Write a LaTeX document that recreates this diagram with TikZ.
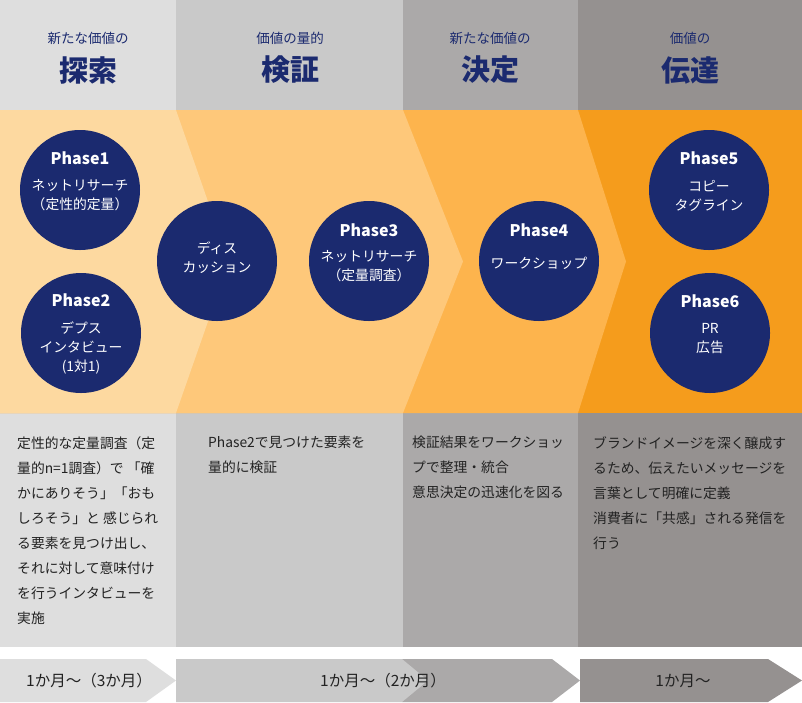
\documentclass[tikz,border=0pt]{standalone}
\usepackage{fontspec}
\setmainfont{Noto Sans CJK JP}
\definecolor{navy}{HTML}{1B2A6F}
\definecolor{colA}{HTML}{DEDEDE}
\definecolor{colB}{HTML}{C9C9C9}
\definecolor{colC}{HTML}{ABA9A9}
\definecolor{colD}{HTML}{959190}
\definecolor{bandA}{HTML}{FDD9A0}
\definecolor{bandB}{HTML}{FEC87A}
\definecolor{bandC}{HTML}{FDB44D}
\definecolor{bandD}{HTML}{F59C1C}
\definecolor{bodygray}{HTML}{222222}
\tikzset{
  phase/.style={circle, fill=navy, minimum size=120pt, inner sep=0pt},
  ptitle/.style={text=white, inner sep=0pt, font=\fontsize{16}{19}\bfseries},
  ptext/.style={text=white, inner sep=0pt, align=center, font=\fontsize{13.8}{19}\selectfont},
  headsmall/.style={text=navy, inner sep=0pt, font=\fontsize{13.5}{15}\selectfont},
  headbig/.style={text=navy, inner sep=0pt, font=\fontsize{29}{32}\bfseries},
  bodytext/.style={anchor=north west, inner sep=0pt, align=left, text=bodygray, font=\fontsize{13.8}{25}\selectfont},
  termtext/.style={text=bodygray, inner sep=0pt, font=\fontsize{15.5}{17}\selectfont}
}
\begin{document}
\begin{tikzpicture}[x=1pt,y=-1pt]
\useasboundingbox (0,0) rectangle (802,702);
% columns
\fill[colA] (0,0) rectangle (176,647);
\fill[colB] (176,0) rectangle (403,647);
\fill[colC] (403,0) rectangle (578,647);
\fill[colD] (578,0) rectangle (802,647);
% band
\fill[bandD] (0,110) rectangle (802,413);
\fill[bandC] (0,110) -- (578,110) -- (626,261.5) -- (578,413) -- (0,413) -- cycle;
\fill[bandB] (0,110) -- (403,110) -- (463,261.5) -- (403,413) -- (0,413) -- cycle;
\fill[bandA] (0,110) -- (176,110) -- (229,261.5) -- (176,413) -- (0,413) -- cycle;
% headings
\node[headsmall] (s1) at (88,38) {新たな価値の};
\node[headbig] (h1) at (88,70) {探索};
\node[headsmall] (s2) at (290,38) {価値の量的};
\node[headbig] (h2) at (290,70) {検証};
\node[headsmall] (s3) at (490,38) {新たな価値の};
\node[headbig] (h3) at (490,70) {決定};
\node[headsmall] (s4) at (690,38) {価値の};
\node[headbig] (h4) at (690,70) {伝達};
% phases
\node[phase] (p1) at (80,190) {};
\node[phase] (p2) at (81,333) {};
\node[phase] (disc) at (217,261) {};
\node[phase] (p3) at (369,261) {};
\node[phase] (p4) at (539,261) {};
\node[phase] (p5) at (709,190) {};
\node[phase] (p6) at (710,333) {};
\node[ptitle] (p1t) at ([yshift=32pt]p1.center) {Phase1};
\node[ptext] (p1x) at ([yshift=-5.5pt]p1.center) {ネットリサーチ\\（定性的定量）};
\node[ptitle] (p2t) at ([yshift=33pt]p2.center) {Phase2};
\node[ptext] (p2x) at ([yshift=-15pt]p2.center) {デプス\\インタビュー\\(1対1)};
\node[ptext] (discx) at ([yshift=3pt]disc.center) {ディス\\カッション};
\node[ptitle] (p3t) at ([yshift=31pt]p3.center) {Phase3};
\node[ptext] (p3x) at ([yshift=-5.5pt]p3.center) {ネットリサーチ\\（定量調査）};
\node[ptitle] (p4t) at ([yshift=31pt]p4.center) {Phase4};
\node[ptext] (p4x) at ([yshift=-2pt]p4.center) {ワークショップ};
\node[ptitle] (p5t) at ([yshift=32pt]p5.center) {Phase5};
\node[ptext] (p5x) at ([yshift=-5.5pt]p5.center) {コピー\\タグライン};
\node[ptitle] (p6t) at ([yshift=32pt]p6.center) {Phase6};
\node[ptext] (p6x) at ([yshift=-5.5pt]p6.center) {PR\\広告};
% descriptions
\node[bodytext] (d1) at (17,436) {定性的な定量調査（定\\量的n=1調査）で 「確\\かにありそう」「おも\\しろそう」と 感じられ\\る要素を見つけ出し、\\それに対して意味付け\\を行うインタビューを\\実施};
\node[bodytext] (d2) at (208,436) {Phase2で見つけた要素を\\量的に検証};
\node[bodytext] (d3) at (412,436) {検証結果をワークショッ\\プで整理・統合\\意思決定の迅速化を図る};
\node[bodytext] (d4) at (593,436) {ブランドイメージを深く醸成す\\るため、伝えたいメッセージを\\言葉として明確に定義\\消費者に「共感」される発信を\\行う};
% terms
\fill[colC] (402,659) -- (552,659) -- (580,680.5) -- (552,702) -- (402,702) -- cycle;
\fill[colB] (176,659) -- (402,659) -- (428,680.5) -- (402,702) -- (176,702) -- cycle;
\fill[colA] (0,659) -- (146,659) -- (176,680.5) -- (146,702) -- (0,702) -- cycle;
\fill[colD] (580,659) -- (768,659) -- (802,680.5) -- (768,702) -- (580,702) -- cycle;
\node[termtext] (t1) at (89,681) {1か月～（3か月）};
\node[termtext] (t2) at (383,681) {1か月～（2か月）};
\node[termtext] (t3) at (683,681) {1か月～};
\end{tikzpicture}
\end{document}
